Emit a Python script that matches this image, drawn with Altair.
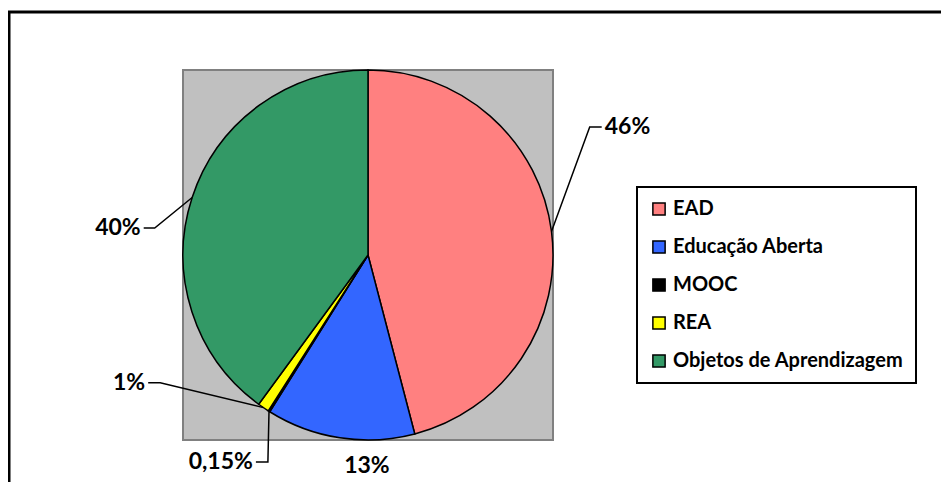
import math
import altair as alt
import pandas as pd

# ---- data ----
categories = ["EAD", "Educação Aberta", "MOOC", "REA", "Objetos de Aprendizagem"]
values = [46, 13, 0.15, 1, 40]
labels = ["46%", "13%", "0,15%", "1%", "40%"]
colors = ["#FF8080", "#3366FF", "#000000", "#FFFF00", "#339966"]

# ---- layout (pixels) ----
W, H = 933, 474
CX, CY, R = 360, 247, 185
FONT = "Lato"
# label elbow placement: (angle deg clockwise from top, radius, tail length, text side)
label_layout = {
    "EAD": (60.0, 256, 12, "right"),
    "Educação Aberta": (180.3, 211, 0, "center"),
    "MOOC": (205.8, 230, -12, "left"),
    "REA": (238.4, 244, -12, "left"),
    "Objetos de Aprendizagem": (277.2, 215, -11, "left"),
}

df = pd.DataFrame({"category": categories, "value": values, "label": labels,
                   "idx": list(range(len(categories)))})

total = sum(values)
line_rows, text_rows = [], []
cum = 0.0
for cat, v, lab in zip(categories, values, labels):
    start = cum / total * 360
    cum += v
    end = cum / total * 360
    mid = math.radians((start + end) / 2)
    ang, rad, tail, side = label_layout[cat]
    a = math.radians(ang)
    ex, ey = CX + rad * math.sin(a), CY - rad * math.cos(a)
    if side != "center":
        px, py = CX + R * math.sin(mid), CY - R * math.cos(mid)
        line_rows += [
            {"category": cat, "o": 0, "px": px, "py": py},
            {"category": cat, "o": 1, "px": ex, "py": ey},
            {"category": cat, "o": 2, "px": ex + tail, "py": ey},
        ]
        tx = ex + tail + (3 if tail > 0 else -3)
    else:
        tx = ex
    text_rows.append({"label": lab, "tx": tx, "ty": ey, "side": side})

lines_df = pd.DataFrame(line_rows)
text_df = pd.DataFrame(text_rows)
one = alt.Data(values=[{}])

frame = alt.Chart(one).mark_rect(filled=False, stroke="black", strokeWidth=3).encode(
    x=alt.value(1), x2=alt.value(W + 20), y=alt.value(4), y2=alt.value(H + 20))

plot_bg = alt.Chart(one).mark_rect(fill="#C0C0C0", stroke="#808080", strokeWidth=2).encode(
    x=alt.value(CX - R), x2=alt.value(CX + R), y=alt.value(CY - R), y2=alt.value(CY + R))

pie = alt.Chart(df).mark_arc(outerRadius=R, stroke="black", strokeWidth=1.5).encode(
    theta=alt.Theta("value:Q", stack=True),
    order=alt.Order("idx:Q"),
    color=alt.Color("category:N", sort=categories,
                    scale=alt.Scale(domain=categories, range=colors),
                    legend=alt.Legend(title=None, orient="none", legendX=629, legendY=179)),
    x=alt.value(CX), y=alt.value(CY),
)

leaders = alt.Chart(lines_df).mark_line(color="black", strokeWidth=1.5).encode(
    x=alt.X("px:Q", scale=None), y=alt.Y("py:Q", scale=None),
    detail="category:N", order="o:Q")

def text_layer(side, align):
    return alt.Chart(text_df).transform_filter(alt.datum.side == side).mark_text(
        font=FONT, fontWeight="bold", fontSize=23, color="black",
        align=align, baseline="middle").encode(
        x=alt.X("tx:Q", scale=None), y=alt.Y("ty:Q", scale=None), text="label:N")

chart = alt.layer(
    frame, plot_bg, pie, leaders,
    text_layer("right", "left"), text_layer("left", "right"), text_layer("center", "center"),
).properties(
    width=W, height=H, autosize=alt.AutoSizeParams(type="none"), padding=0,
).configure_view(stroke=None).configure_legend(
    symbolType="square", symbolSize=150, symbolStrokeColor="black", symbolStrokeWidth=1.5,
    labelFont=FONT, labelFontWeight="bold", labelFontSize=20, labelColor="black",
    labelLimit=400, labelOffset=4, rowPadding=18, padding=12,
    strokeColor="black", fillColor="white", strokeWidth=2,
)

chart.save("out.html", embed_options={"renderer": "svg", "actions": False})
